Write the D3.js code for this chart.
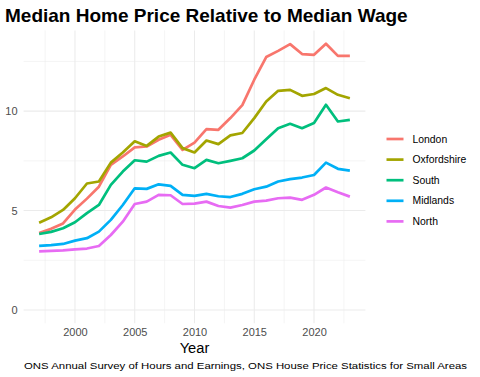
<!DOCTYPE html>
<html>
<head>
<meta charset="utf-8">
<script src="https://cdn.jsdelivr.net/npm/d3@7"></script>
<style>
  html, body { margin: 0; padding: 0; background: #fff; }
  svg { display: block; font-family: "Liberation Sans", Arial, sans-serif; }
</style>
</head>
<body>
<svg id="chart" width="480" height="377"></svg>
<script>
const years = d3.range(1997, 2024);
const regions = ["London", "Oxfordshire", "South", "Midlands", "North"];
const colors = ["#F8766D", "#A3A500", "#00BF7D", "#00B0F6", "#E76BF3"];

const london = [3.87, 4.08, 4.35, 5.05, 5.6, 6.2, 7.3, 7.72, 8.18, 8.22, 8.56, 8.81, 8.05, 8.42, 9.09, 9.06, 9.65, 10.3, 11.58, 12.72, 13.03, 13.37, 12.87, 12.83, 13.39, 12.78, 12.78];
const oxfordshire = [4.39, 4.66, 5.03, 5.62, 6.36, 6.46, 7.41, 7.92, 8.48, 8.25, 8.72, 8.92, 8.14, 7.92, 8.52, 8.34, 8.78, 8.9, 9.65, 10.48, 11.02, 11.07, 10.77, 10.86, 11.16, 10.82, 10.65];
const south = [3.82, 3.93, 4.11, 4.41, 4.87, 5.28, 6.29, 6.96, 7.53, 7.46, 7.75, 7.92, 7.3, 7.13, 7.55, 7.38, 7.5, 7.63, 8.02, 8.59, 9.14, 9.36, 9.14, 9.4, 10.32, 9.48, 9.56];
const midlands = [3.22, 3.26, 3.32, 3.49, 3.61, 3.94, 4.53, 5.28, 6.12, 6.09, 6.32, 6.24, 5.79, 5.74, 5.84, 5.72, 5.68, 5.84, 6.07, 6.2, 6.46, 6.58, 6.66, 6.79, 7.41, 7.1, 7.01];
const north = [2.95, 2.97, 3.0, 3.05, 3.09, 3.22, 3.77, 4.44, 5.33, 5.45, 5.79, 5.77, 5.33, 5.35, 5.45, 5.23, 5.15, 5.28, 5.45, 5.5, 5.62, 5.65, 5.54, 5.79, 6.16, 5.92, 5.7];

const seriesValues = [london, oxfordshire, south, midlands, north];
const yTicks = [0, 5, 10];
const yMinor = [2.5, 7.5, 12.5];
const xTicks = [2000, 2005, 2010, 2015, 2020];
const xMinor = [1997.5, 2002.5, 2007.5, 2012.5, 2017.5, 2022.5];

const titleText = "Median Home Price Relative to Median Wage";
const xTitle = "Year";
const captionText = "ONS Annual Survey of Hours and Earnings, ONS House Price Statistics for Small Areas";

const svg = d3.select("#chart");
const panel = { left: 23.6, right: 365.4, top: 30.4, bottom: 323.3 };

const xMin = d3.min(years), xMax = d3.max(years);
const xPad = (xMax - xMin) * 0.05;
const x = d3.scaleLinear().domain([xMin - xPad, xMax + xPad]).range([panel.left, panel.right]);
const yMaxData = d3.max(seriesValues.flat());
const yPad = yMaxData * 0.05;
const y = d3.scaleLinear().domain([0 - yPad, yMaxData + yPad]).range([panel.bottom, panel.top]);

// grid
const grid = svg.append("g");
grid.selectAll(".ymin").data(yMinor).join("line")
  .attr("x1", panel.left).attr("x2", panel.right)
  .attr("y1", d => y(d)).attr("y2", d => y(d))
  .attr("stroke", "#EBEBEB").attr("stroke-width", 0.55);
grid.selectAll(".xmin").data(xMinor).join("line")
  .attr("y1", panel.top).attr("y2", panel.bottom)
  .attr("x1", d => x(d)).attr("x2", d => x(d))
  .attr("stroke", "#EBEBEB").attr("stroke-width", 0.55);
grid.selectAll(".ymaj").data(yTicks).join("line")
  .attr("x1", panel.left).attr("x2", panel.right)
  .attr("y1", d => y(d)).attr("y2", d => y(d))
  .attr("stroke", "#EBEBEB").attr("stroke-width", 1.07);
grid.selectAll(".xmaj").data(xTicks).join("line")
  .attr("y1", panel.top).attr("y2", panel.bottom)
  .attr("x1", d => x(d)).attr("x2", d => x(d))
  .attr("stroke", "#EBEBEB").attr("stroke-width", 1.07);

// axes (labels only)
const yAxis = d3.axisLeft(y).tickValues(yTicks).tickSize(0).tickPadding(6);
const gy = svg.append("g").attr("transform", `translate(${panel.left},0)`).call(yAxis);
gy.select(".domain").remove();
gy.selectAll("text").attr("fill", "#4D4D4D").style("font-size", "11px")
  .style("font-family", "'Liberation Sans', Arial, sans-serif");

const xAxis = d3.axisBottom(x).tickValues(xTicks).tickFormat(d3.format("d")).tickSize(0).tickPadding(5);
const gx = svg.append("g").attr("transform", `translate(0,${panel.bottom})`).call(xAxis);
gx.select(".domain").remove();
gx.selectAll("text").attr("fill", "#4D4D4D").style("font-size", "11px")
  .style("font-family", "'Liberation Sans', Arial, sans-serif");

// lines
const line = d3.line().x((d, i) => x(years[i])).y(d => y(d));
svg.append("g").selectAll("path").data(seriesValues).join("path")
  .attr("d", d => line(d))
  .attr("fill", "none")
  .attr("stroke", (d, i) => colors[i])
  .attr("stroke-width", 2.7)
  .attr("stroke-linejoin", "round")
  .attr("stroke-linecap", "butt");

// legend
const legend = svg.append("g");
const lg = legend.selectAll("g").data(regions).join("g")
  .attr("transform", (d, i) => `translate(386.5, ${139 + i * 20.6})`);
lg.append("line").attr("x1", 0).attr("x2", 17).attr("y1", 0).attr("y2", 0)
  .attr("stroke", (d, i) => colors[i]).attr("stroke-width", 2.7);
lg.append("text").attr("x", 26).attr("y", 0).attr("dy", "0.35em")
  .style("font-size", "10.4px").attr("fill", "#000").text(d => d);

// titles
svg.append("text").attr("x", 5).attr("y", 22)
  .style("font-size", "19px").style("font-weight", "bold").attr("fill", "#000")
  .text(titleText);
svg.append("text").attr("x", (panel.left + panel.right) / 2).attr("y", 353)
  .attr("text-anchor", "middle").style("font-size", "14.7px").attr("fill", "#000")
  .text(xTitle);
svg.append("text").attr("x", 467).attr("y", 369)
  .attr("text-anchor", "end").style("font-size", "9.6px").attr("fill", "#000")
  .attr("textLength", 443).attr("lengthAdjust", "spacingAndGlyphs")
  .text(captionText);
</script>
</body>
</html>
